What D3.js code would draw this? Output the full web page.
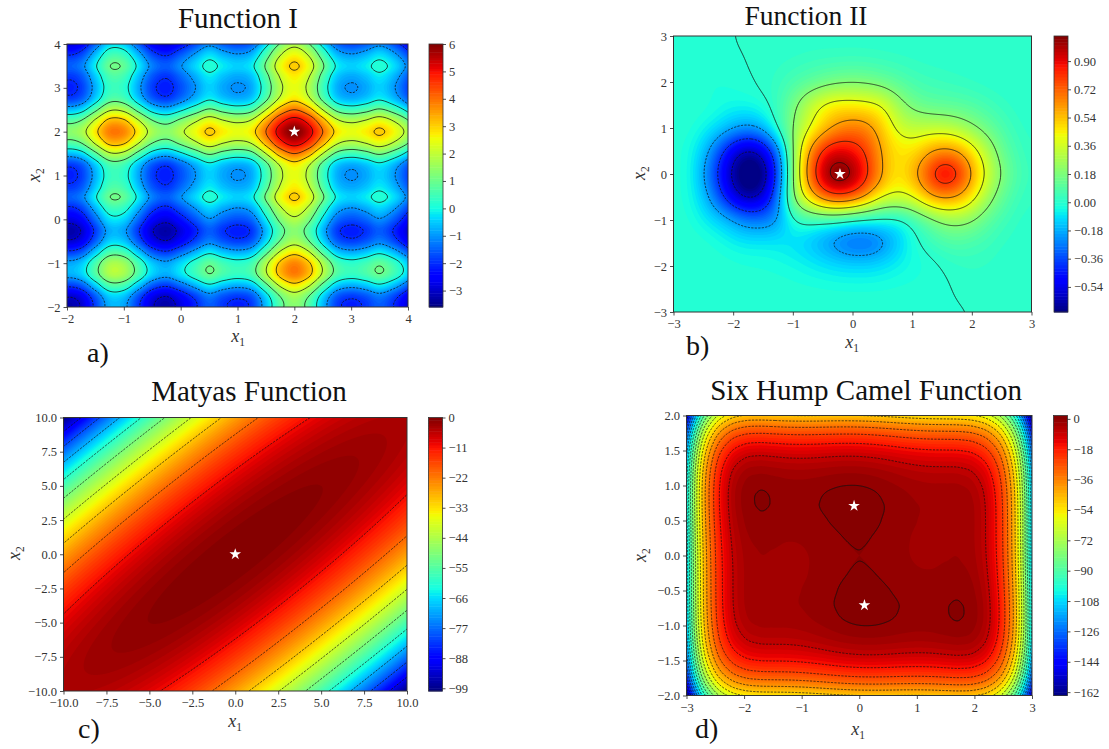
<!DOCTYPE html>
<html>
<head>
<meta charset="utf-8">
<script src="https://cdn.jsdelivr.net/npm/d3@7"></script>
<style>
  body { margin: 0; background: #fff; }
  text { font-family: "Liberation Serif", serif; }
</style>
</head>
<body>
<svg id="chart" width="1109" height="749"></svg>
<script>
// values, on coarse grids. first row is the lowest x2.

// function I looks like the sum of one profile per axis, step 0.25 from -2 to 4
const fn1ProfileX = [-1.6, -1.32, -0.2, 0.88, 0.78, -0.25, -1.3, -1.65, -1.15, -0.5, 0.1, -0.3, -0.53,
  -0.25, 1.0, 2.35, 3.0, 2.35, 1.0, -0.2, -0.53, -0.3, 0.1, -0.4, -1.3];
const fn1ProfileY = fn1ProfileX.slice();
const fn1Grid = fn1ProfileY.map(b => fn1ProfileX.map(a => a + b));

// function II, x1 step 0.25 from -3 to 3, x2 step 0.5 from -3 to 3
const fn2Grid = [
  [-.001, -.001, -.001, -.001, -.002, -.002, -.002, -.002, -.002, -.003, -.003, -.003, -.003, -.003, -.003, -.003, -.002, -.002, -.0017, -.0008, .0004, .0009, .001, .001, .0005],
  [-.001, -.001, -.001, -.002, -.003, -.004, -.005, -.007, -.01, -.013, -.017, -.02, -.022, -.022, -.02, -.015, -.012, -.009, -.0034, .0016, .006, .005, .003, .002, .001],
  [-.001, -.002, -.004, -.008, -.012, -.02, -.022, -.03, -.04, -.06, -.08, -.1, -.11, -.11, -.09, -.06, -.032, -.016, 0, .016, .024, .018, .008, .003, .001],
  [-.001, -.003, -.01, -.03, -.06, -.08, -.08, -.08, -.09, -.12, -.18, -.24, -.29, -.29, -.23, -.13, -.03, .024, .07, .09, .07, .05, .02, .01, .002],
  [-.002, -.015, -.06, -.12, -.2, -.28, -.28, -.2, -.01, .05, .05, .04, 0, -.02, -.03, -.03, .05, .14, .23, .25, .21, .12, .06, .02, .01],
  [-.01, -.03, -.13, -.33, -.53, -.64, -.57, -.27, .19, .46, .68, .77, .72, .57, .39, .36, .39, .55, .63, .6, .46, .27, .13, .05, .02],
  [-.01, -.03, -.19, -.42, -.64, -.78, -.7, -.36, .2, .65, .96, 1.09, 1.02, .82, .6, .46, .55, .73, .92, .85, .6, .37, .19, .08, .03],
  [-.01, -.03, -.13, -.33, -.53, -.63, -.55, -.26, .2, .58, .83, .92, .88, .78, .58, .47, .47, .57, .64, .61, .47, .3, .14, .06, .02],
  [-.002, -.01, -.05, -.11, -.19, -.23, -.17, .01, .2, .38, .53, .64, .68, .65, .52, .37, .32, .33, .33, .3, .23, .15, .08, .03, .01],
  [-.001, -.002, -.01, -.03, -.05, -.05, -.02, .04, .16, .3, .41, .46, .46, .44, .4, .26, .17, .13, .12, .11, .09, .06, .03, .01, .002],
  [-.006, -.01, -.016, -.02, -.014, -.0036, .0064, .03, .07, .11, .15, .18, .19, .18, .15, .11, .07, .05, .04, .03, .02, .01, .005, .002, .001],
  [-.006, -.008, -.011, -.007, -.003, .001, .005, .012, .02, .03, .038, .042, .045, .042, .035, .026, .018, .012, .009, .007, .005, .003, .002, .001, .001],
  [-.004, -.005, -.0042, -.0022, -.0002, .0018, .0038, .0055, .007, .008, .009, .009, .009, .008, .007, .005, .004, .003, .002, .001, .001, .0005, .0005, .0005, .0005]
];

// matyas, both axes step 2.5 from -10 to 10
const matyasGrid = [
  [-4, -4.63, -8.5, -15.63, -26, -39.63, -56.5, -76.63, -100],
  [-4.63, -2.25, -3.13, -7.25, -14.63, -25.25, -39.13, -56.25, -76.63],
  [-8.5, -3.13, -1, -2.13, -6.5, -14.13, -25, -39.13, -56.5],
  [-15.63, -7.25, -2.13, -0.25, -1.63, -6.25, -14.13, -25.25, -39.63],
  [-26, -14.63, -6.5, -1.63, 0, -1.63, -6.5, -14.63, -26],
  [-39.63, -25.25, -14.13, -6.25, -1.63, -0.25, -2.13, -7.25, -15.63],
  [-56.5, -39.13, -25, -14.13, -6.5, -2.13, -1, -3.13, -8.5],
  [-76.63, -56.25, -39.13, -25.25, -14.63, -7.25, -3.13, -2.25, -4.63],
  [-100, -76.63, -56.5, -39.63, -26, -15.63, -8.5, -4.63, -4]
];

// six hump camel, x1 step 0.25 from -3 to 3, x2 step 0.25 from 0 to 2.
// the lower half of the picture is this half turned by 180 degrees
const camelUpperRows = [
  [-108.9, -54.3, -24.35, -9.68, -3.73, -2.13, -2.17, -2.4, -2.23, -1.65, -.87, -.24, 0, -.24, -.87, -1.65, -2.23, -2.4, -2.17, -2.13, -3.73, -9.68, -24.35, -54.3, -108.9],
  [-107.92, -53.38, -23.49, -8.88, -3, -1.46, -1.56, -1.85, -1.75, -1.23, -.51, .06, .23, -.07, -.76, -1.6, -2.25, -2.48, -2.31, -2.33, -4, -10.01, -24.74, -54.75, -109.42],
  [-106.65, -52.18, -22.35, -7.81, -1.98, -.51, -.67, -1.03, -.98, -.53, .13, .64, .75, .39, -.37, -1.28, -1.98, -2.28, -2.17, -2.26, -3.98, -10.06, -24.85, -54.93, -109.65],
  [-105.67, -51.25, -21.49, -7.01, -1.25, .17, -.06, -.48, -.5, -.1, .49, .93, .98, .56, -.26, -1.23, -2, -2.35, -2.31, -2.46, -4.25, -10.38, -25.24, -55.38, -110.17],
  [-105.9, -51.55, -21.85, -7.43, -1.73, -.38, -.67, -1.15, -1.23, -.9, -.37, .01, 0, -.49, -1.37, -2.4, -3.23, -3.65, -3.67, -3.88, -5.73, -11.93, -26.85, -57.05, -111.9],
  [-108.67, -54.38, -24.74, -10.38, -4.75, -3.46, -3.81, -4.35, -4.5, -4.23, -3.76, -3.44, -3.52, -4.07, -5.01, -6.1, -7, -7.48, -7.56, -7.83, -9.75, -16.01, -30.99, -61.25, -116.17],
  [-115.65, -61.43, -31.85, -17.56, -11.98, -10.76, -11.17, -11.78, -11.98, -11.78, -11.37, -11.12, -11.25, -11.87, -12.87, -14.03, -14.98, -15.53, -15.67, -16.01, -17.98, -24.31, -39.35, -69.68, -124.65],
  [-128.92, -74.76, -45.25, -31.01, -25.5, -24.34, -24.82, -25.48, -25.75, -25.61, -25.27, -25.07, -25.27, -25.95, -27.02, -28.23, -29.25, -29.86, -30.07, -30.46, -32.5, -38.89, -54, -84.38, -139.42],
  [-150.9, -96.8, -67.35, -53.18, -47.73, -46.63, -47.17, -47.9, -48.23, -48.15, -47.87, -47.74, -48, -48.74, -49.87, -51.15, -52.23, -52.9, -53.17, -53.63, -55.73, -62.18, -77.35, -107.8, -162.9]
];
const camelGrid = camelUpperRows.slice(1).reverse().map(r => r.slice().reverse()).concat(camelUpperRows);

// contour line levels
const fn1Lines = [-3, -2, -1, 0, 1, 2, 3, 4, 5];
const fn2Lines = [-0.6, -0.4, -0.2, 0, 0.2, 0.4, 0.6, 0.8, 1.0];
const matyasLines = [-90, -80, -70, -60, -50, -40, -30, -20, -10];
const camelLines = [-160, -152, -144, -136, -128, -120, -112, -104, -96, -88, -80, -72, -64, -56, -48, -40, -32, -24, -16, -8, 0.03];

// tick labels
const fn1Ticks = [-2, -1, 0, 1, 2, 3, 4];
const fn1BarTicks = [-3, -2, -1, 0, 1, 2, 3, 4, 5, 6];
const fn2Ticks = [-3, -2, -1, 0, 1, 2, 3];
const fn2BarTicks = [-0.54, -0.36, -0.18, 0, 0.18, 0.36, 0.54, 0.72, 0.90];
const matyasTicks = [-10, -7.5, -5, -2.5, 0, 2.5, 5, 7.5, 10];
const matyasBarTicks = [0, -11, -22, -33, -44, -55, -66, -77, -88, -99];
const camelXTicks = [-3, -2, -1, 0, 1, 2, 3];
const camelYTicks = [-2, -1.5, -1, -0.5, 0, 0.5, 1, 1.5, 2];
const camelBarTicks = [0, -18, -36, -54, -72, -90, -108, -126, -144, -162];

// minima marked with a star
const fn1Stars = [[2, 2]];
const fn2Stars = [[-0.21, 0]];
const matyasStars = [[0, 0]];
const camelStars = [[-0.09, 0.71], [0.09, -0.71]];

const panels = [
  {
    title: 'Function I', tag: 'a)', grid: fn1Grid, lines: fn1Lines, stars: fn1Stars,
    xDomain: [-2, 4], yDomain: [-2, 4], xTicks: fn1Ticks, yTicks: fn1Ticks, barTicks: fn1BarTicks,
    range: [-3.6, 6], step: 0.1, tickFmt: '.0f', barFmt: '.0f', monotone: false, blur: 0,
    box: { left: 67, right: 408, top: 44, bottom: 307 }, bar: { left: 429, right: 443 },
    titlePos: [238, 28], titleSize: 29, tagPos: [87, 362], xLabelPos: [238, 342], yLabelPos: [40, 175],
  },
  {
    title: 'Function II', tag: 'b)', grid: fn2Grid, lines: fn2Lines, stars: fn2Stars,
    xDomain: [-3, 3], yDomain: [-3, 3], xTicks: fn2Ticks, yTicks: fn2Ticks, barTicks: fn2BarTicks,
    range: [-0.7, 1.06], step: 0.02, tickFmt: '.0f', barFmt: '.2f', monotone: true, blur: 7,
    box: { left: 673.5, right: 1031.5, top: 36, bottom: 312 }, bar: { left: 1054, right: 1068 },
    titlePos: [806, 24.5], titleSize: 27.5, tagPos: [686, 355], xLabelPos: [852, 348], yLabelPos: [645, 173],
  },
  {
    title: 'Matyas Function', tag: 'c)', grid: matyasGrid, lines: matyasLines, stars: matyasStars,
    xDomain: [-10, 10], yDomain: [-10, 10], xTicks: matyasTicks, yTicks: matyasTicks, barTicks: matyasBarTicks,
    range: [-100, 0], step: 1, tickFmt: '.1f', barFmt: '.0f', monotone: false, blur: 0,
    box: { left: 63.5, right: 407, top: 417.5, bottom: 691 }, bar: { left: 428.5, right: 442.5 },
    titlePos: [249, 401], titleSize: 29, tagPos: [78, 738], xLabelPos: [235, 727], yLabelPos: [20, 553],
  },
  {
    title: 'Six Hump Camel Function', tag: 'd)', grid: camelGrid, lines: camelLines, stars: camelStars,
    xDomain: [-3, 3], yDomain: [-2, 2], xTicks: camelXTicks, yTicks: camelYTicks, barTicks: camelBarTicks,
    range: [-164, 2], step: 2, tickFmt: null, barFmt: '.0f', monotone: false, blur: 0,
    box: { left: 686.5, right: 1032, top: 415.5, bottom: 695.5 }, bar: { left: 1053.5, right: 1067.5 },
    titlePos: [866, 400], titleSize: 29, tagPos: [695, 738], xLabelPos: [858, 735], yLabelPos: [646, 555],
  },
];

// matplotlib jet
const jetR = d3.scaleLinear().domain([0, 0.35, 0.66, 0.89, 1]).range([0, 0, 1, 1, 0.5]);
const jetG = d3.scaleLinear().domain([0, 0.125, 0.375, 0.64, 0.91, 1]).range([0, 0, 1, 1, 0, 0]);
const jetB = d3.scaleLinear().domain([0, 0.11, 0.34, 0.65, 1]).range([0.5, 1, 1, 0, 0]);
function jet(t) {
  return d3.rgb(jetR(t) * 255, jetG(t) * 255, jetB(t) * 255).formatRgb();
}

const svg = d3.select('#chart');
const defs = svg.append('defs');
const minus = s => s.replace(/-/g, '\u2212');

// limit a tangent so the curve cannot swing past its neighbours
function limitTangent(m, d0, d1) {
  if (d0 * d1 <= 0) return 0;
  return Math.sign(m) * Math.min(Math.abs(m), 3 * Math.abs(d0), 3 * Math.abs(d1));
}

function cubic(a, b, c, d, t, monotone) {
  let m1 = (c - a) / 2;
  let m2 = (d - b) / 2;
  if (monotone) {
    m1 = limitTangent(m1, b - a, c - b);
    m2 = limitTangent(m2, c - b, d - c);
  }
  const t2 = t * t;
  const t3 = t2 * t;
  return (2 * t3 - 3 * t2 + 1) * b + (t3 - 2 * t2 + t) * m1 + (-2 * t3 + 3 * t2) * c + (t3 - t2) * m2;
}

// one ghost row and column each side so the cubic keeps its shape at the frame
function addGhosts(grid) {
  const ghost = r => [3 * r[0] - 3 * r[1] + r[2], ...r, 3 * r[r.length - 1] - 3 * r[r.length - 2] + r[r.length - 3]];
  const rows = grid.map(ghost);
  const n = rows.length;
  const below = rows[0].map((v, i) => 3 * v - 3 * rows[1][i] + rows[2][i]);
  const above = rows[n - 1].map((v, i) => 3 * v - 3 * rows[n - 2][i] + rows[n - 3][i]);
  return [below, ...rows, above];
}

// smooth the coarse grid to about one sample per pixel for drawing only.
// pad runs past the frame so the closing edge of each contour ring is clipped away
function resample(grid, nx, ny, pad, monotone, blur) {
  const g = addGhosts(grid);
  const rows = grid.length;
  const cols = grid[0].length;
  const w = nx + 2 * pad;
  const h = ny + 2 * pad;
  const out = new Float64Array(w * h);
  const locate = (i, n, cells) => {
    const u = Math.max(0, Math.min(1, (i - pad) / (n - 1))) * (cells - 1);
    const k = Math.min(Math.floor(u), cells - 2);
    return [k + 1, u - k];
  };
  for (let j = 0; j < h; j += 1) {
    const [r, ty] = locate(j, ny, rows);
    for (let i = 0; i < w; i += 1) {
      const [c, tx] = locate(i, nx, cols);
      const col = [-1, 0, 1, 2].map(o => {
        const row = g[r + o];
        return cubic(row[c - 1], row[c], row[c + 1], row[c + 2], tx, monotone);
      });
      out[j * w + i] = cubic(col[0], col[1], col[2], col[3], ty, monotone);
    }
  }
  if (blur) d3.blur2({ data: out, width: w, height: h }, blur);
  return { values: out, w, h };
}

function axisText(sel, size) {
  sel.selectAll('text')
    .style('font-family', '"Liberation Serif", serif')
    .style('font-size', `${size}px`)
    .attr('fill', '#333');
  sel.selectAll('line').attr('stroke', '#222').attr('stroke-width', 0.8);
  sel.select('.domain').remove();
}

function subLabel(g, x, y, sub, rotate) {
  const t = g.append('text')
    .attr('text-anchor', 'middle')
    .attr('fill', '#333')
    .attr('transform', `translate(${x},${y})${rotate ? ' rotate(-90)' : ''}`);
  t.append('tspan').style('font-style', 'italic').style('font-size', '18px').text('x');
  t.append('tspan').attr('dy', 4).style('font-size', '11.5px').text(sub);
}

panels.forEach((p, index) => {
  const { box, bar } = p;
  const g = svg.append('g');
  const x = d3.scaleLinear().domain(p.xDomain).range([box.left, box.right]);
  const y = d3.scaleLinear().domain(p.yDomain).range([box.bottom, box.top]);
  const nx = Math.round(box.right - box.left) + 1;
  const ny = Math.round(box.bottom - box.top) + 1;
  const pad = 3;
  const field = resample(p.grid, nx, ny, pad, p.monotone, p.blur);

  // contour coords back to data, then through the scales. sample i sits at i + 0.5
  const xAt = c => p.xDomain[0] + ((c - 0.5 - pad) / (nx - 1)) * (p.xDomain[1] - p.xDomain[0]);
  const yAt = c => p.yDomain[0] + ((c - 0.5 - pad) / (ny - 1)) * (p.yDomain[1] - p.yDomain[0]);
  const path = d3.geoPath(d3.geoTransform({
    point(a, b) { this.stream.point(x(xAt(a)), y(yAt(b))); },
  }));

  const clipId = `clip-${index}`;
  defs.append('clipPath').attr('id', clipId).append('rect')
    .attr('x', box.left).attr('y', box.top)
    .attr('width', box.right - box.left).attr('height', box.bottom - box.top);

  const [lo, hi] = p.range;
  const color = v => jet((v - lo) / (hi - lo));
  const bands = d3.range(Math.round((hi - lo) / p.step)).map(i => lo + i * p.step);
  const contours = d3.contours().size([field.w, field.h]);
  const plot = g.append('g').attr('clip-path', `url(#${clipId})`);

  plot.append('rect')
    .attr('x', box.left).attr('y', box.top)
    .attr('width', box.right - box.left).attr('height', box.bottom - box.top)
    .attr('fill', color(lo + p.step / 2));

  plot.append('g')
    .selectAll('path')
    .data(contours.thresholds(bands)(field.values))
    .enter()
    .append('path')
    .attr('d', path)
    .attr('fill', d => color(d.value + p.step / 2));

  plot.append('g')
    .selectAll('path')
    .data(contours.thresholds(p.lines)(field.values))
    .enter()
    .append('path')
    .attr('d', path)
    .attr('fill', 'none')
    .attr('stroke', '#111')
    .attr('stroke-width', 0.75)
    .attr('stroke-dasharray', d => (d.value < 0 ? '2.2,1.3' : null));

  g.append('g')
    .selectAll('path')
    .data(p.stars)
    .enter()
    .append('path')
    .attr('d', d3.symbol(d3.symbolStar, 42))
    .attr('transform', d => `translate(${x(d[0])},${y(d[1])})`)
    .attr('fill', '#fff');

  g.append('rect')
    .attr('x', box.left).attr('y', box.top)
    .attr('width', box.right - box.left).attr('height', box.bottom - box.top)
    .attr('fill', 'none').attr('stroke', '#333').attr('stroke-width', 1);

  const xFmt = p.tickFmt ? d3.format(p.tickFmt) : d3.format('.0f');
  const yFmt = p.tickFmt ? d3.format(p.tickFmt) : d3.format('.1f');
  g.append('g')
    .attr('transform', `translate(0,${box.bottom})`)
    .call(d3.axisBottom(x).tickValues(p.xTicks).tickSize(3.5).tickPadding(4).tickFormat(v => minus(xFmt(v))))
    .call(axisText, 12.5);
  g.append('g')
    .attr('transform', `translate(${box.left},0)`)
    .call(d3.axisLeft(y).tickValues(p.yTicks).tickSize(3.5).tickPadding(3).tickFormat(v => minus(yFmt(v))))
    .call(axisText, 12.5);

  // colour bar
  const barScale = d3.scaleLinear().domain(p.range).range([box.bottom, box.top]);
  g.append('g')
    .selectAll('rect')
    .data(bands)
    .enter()
    .append('rect')
    .attr('x', bar.left)
    .attr('y', d => barScale(d + p.step))
    .attr('width', bar.right - bar.left)
    .attr('height', d => barScale(d) - barScale(d + p.step) + 0.5)
    .attr('fill', d => color(d + p.step / 2));
  g.append('rect')
    .attr('x', bar.left).attr('y', box.top)
    .attr('width', bar.right - bar.left).attr('height', box.bottom - box.top)
    .attr('fill', 'none').attr('stroke', '#333').attr('stroke-width', 0.8);
  const barFmt = d3.format(p.barFmt);
  g.append('g')
    .attr('transform', `translate(${bar.right},0)`)
    .call(d3.axisRight(barScale).tickValues(p.barTicks).tickSize(3).tickPadding(3).tickFormat(v => minus(barFmt(v))))
    .call(axisText, 12.5);

  g.append('text')
    .attr('x', p.titlePos[0]).attr('y', p.titlePos[1])
    .attr('text-anchor', 'middle')
    .attr('fill', '#111')
    .style('font-size', `${p.titleSize}px`)
    .text(p.title);
  g.append('text')
    .attr('x', p.tagPos[0]).attr('y', p.tagPos[1])
    .attr('fill', '#111')
    .style('font-size', '28px')
    .text(p.tag);

  subLabel(g, p.xLabelPos[0], p.xLabelPos[1], '1', false);
  subLabel(g, p.yLabelPos[0], p.yLabelPos[1], '2', true);
});
</script>
</body>
</html>
